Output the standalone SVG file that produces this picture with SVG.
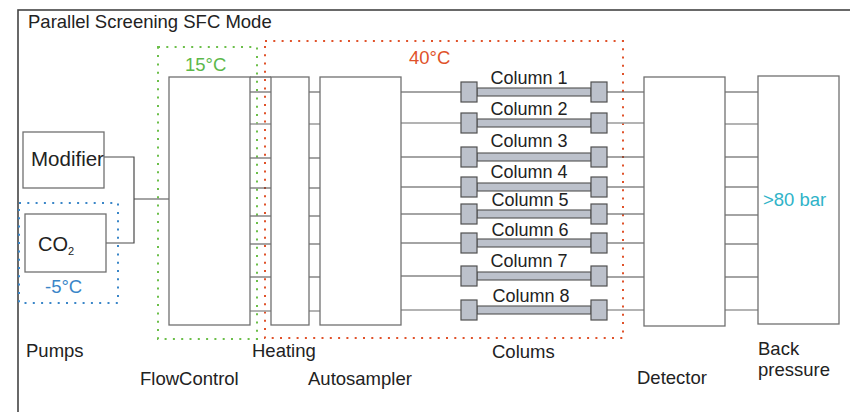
<svg xmlns="http://www.w3.org/2000/svg" width="850" height="412" viewBox="0 0 850 412">
  <style>
    .frame { fill: #ffffff; stroke: #444444; stroke-width: 1.6; }
    .box { fill: #ffffff; stroke: #707070; stroke-width: 1.3; }
    .lbl { font-family: "Liberation Sans", Arial, sans-serif; font-size: 18.5px; fill: #222222; }
    .col { font-family: "Liberation Sans", Arial, sans-serif; font-size: 18px; fill: #222222; text-anchor: middle; }
    .wire { stroke: #4a4a4a; stroke-width: 1.2; fill: none; }
    .wire.light { stroke: #9a9a9a; stroke-width: 1.6; }
    .cap { fill: #bcc1cb; stroke: #505050; stroke-width: 1.2; }
    .bar { fill: #bcc1cb; stroke: #505050; stroke-width: 1.1; }
    .zone { fill: none; stroke-width: 2; stroke-dasharray: 2 6.3; }
    .green { stroke: #6cbf4a; }
    .orange { stroke: #e0522a; }
    .blue { stroke: #3a86c8; }
  </style>
  <defs>
    <!-- one column: inlet cap, tube, outlet cap, centred on y=0 -->
    <g id="column">
      <rect class="bar" x="477" y="-4" width="114" height="8"/>
      <rect class="cap" x="461" y="-10" width="16" height="20"/>
      <rect class="cap" x="591" y="-10" width="16" height="20"/>
    </g>
  </defs>

  <rect class="frame" x="18" y="10" width="850" height="420"/>
  <text class="lbl" x="28" y="28" style="font-size:18.5px">Parallel Screening SFC Mode</text>

  <!-- temperature zones -->
  <g id="zone-15">
    <rect class="zone green" x="158" y="47" width="99" height="292"/>
    <text class="lbl" x="185" y="71" style="fill:#5cb84a">15°C</text>
  </g>
  <g id="zone-40">
    <rect class="zone orange" x="265" y="41" width="358" height="297"/>
    <text class="lbl" x="409" y="64" style="fill:#e0522a">40°C</text>
  </g>
  <g id="zone-minus5">
    <rect class="zone blue" x="19" y="203" width="99" height="100"/>
    <text class="lbl" x="45" y="293" style="fill:#3a86c8">-5°C</text>
  </g>

  <!-- connectors -->
  <g id="connectors">
    <path class="wire" d="M104 157 H134 V243 H106 M134 199 H169"/>
    <path class="wire" d="M250 77 H271"/>
    <!-- eight parallel lines, one per column row -->
    <g id="row1"><path class="wire" d="M250 92 H271 M309 92 H320 M401 92 H461 M607 92 H644 M725 92 H758"/></g>
    <g id="row2"><path class="wire light" d="M250 124 H271 M309 124 H320 M401 123 H461 M607 123 H644 M725 124 H758"/></g>
    <g id="row3"><path class="wire" d="M250 158 H271 M309 158 H320 M401 157 H461 M607 157 H644 M725 157 H758"/></g>
    <g id="row4"><path class="wire" d="M250 188 H271 M309 188 H320 M401 187 H461 M607 187 H644 M725 187 H758"/></g>
    <g id="row5"><path class="wire" d="M250 216 H271 M309 216 H320 M401 214 H461 M607 214 H644 M725 215 H758"/></g>
    <g id="row6"><path class="wire" d="M250 244 H271 M309 244 H320 M401 243 H461 M607 243 H644 M725 244 H758"/></g>
    <g id="row7"><path class="wire" d="M250 277 H271 M309 277 H320 M401 276 H461 M607 277 H644 M725 277 H758"/></g>
    <g id="row8"><path class="wire light" d="M250 311 H271 M309 311 H320 M401 310 H461 M607 310 H644 M725 310 H758"/></g>
  </g>

  <!-- pumps -->
  <g id="modifier">
    <rect class="box" x="23" y="132" width="81" height="56"/>
    <text class="lbl" x="31" y="166" style="font-size:20.5px">Modifier</text>
  </g>
  <g id="co2">
    <rect class="box" x="25" y="214" width="81" height="58"/>
    <text class="lbl" x="38" y="251" style="font-size:20px">CO<tspan dy="4" style="font-size:11px">2</tspan></text>
  </g>
  <text class="lbl" x="26" y="357">Pumps</text>

  <g id="flowcontrol">
    <rect class="box" x="169" y="77" width="81" height="248"/>
    <text class="lbl" x="140" y="385">FlowControl</text>
  </g>
  <g id="heating">
    <rect class="box" x="271" y="77" width="38" height="248"/>
    <text class="lbl" x="252" y="357">Heating</text>
  </g>
  <g id="autosampler">
    <rect class="box" x="320" y="77" width="81" height="248"/>
    <text class="lbl" x="308" y="385">Autosampler</text>
  </g>

  <g id="columns">
    <g id="column-1"><use href="#column" y="92"/><text class="col" x="529" y="84">Column 1</text></g>
    <g id="column-2"><use href="#column" y="123"/><text class="col" x="529" y="115">Column 2</text></g>
    <g id="column-3"><use href="#column" y="157"/><text class="col" x="529" y="147">Column 3</text></g>
    <g id="column-4"><use href="#column" y="187"/><text class="col" x="529" y="178">Column 4</text></g>
    <g id="column-5"><use href="#column" y="214"/><text class="col" x="530" y="206">Column 5</text></g>
    <g id="column-6"><use href="#column" y="243"/><text class="col" x="530" y="236">Column 6</text></g>
    <g id="column-7"><use href="#column" y="276"/><text class="col" x="529" y="267">Column 7</text></g>
    <g id="column-8"><use href="#column" y="310"/><text class="col" x="531" y="302">Column 8</text></g>
    <text class="lbl" x="492" y="358">Colums</text>
  </g>

  <g id="detector">
    <rect class="box" x="644" y="77" width="81" height="249"/>
    <text class="lbl" x="637" y="384">Detector</text>
  </g>
  <g id="back-pressure">
    <rect class="box" x="758" y="76" width="81" height="248"/>
    <text class="lbl" x="763" y="206" style="fill:#2fb3c8">&gt;80 bar</text>
    <text class="lbl" x="758" y="355">Back</text>
    <text class="lbl" x="758" y="376">pressure</text>
  </g>
</svg>
